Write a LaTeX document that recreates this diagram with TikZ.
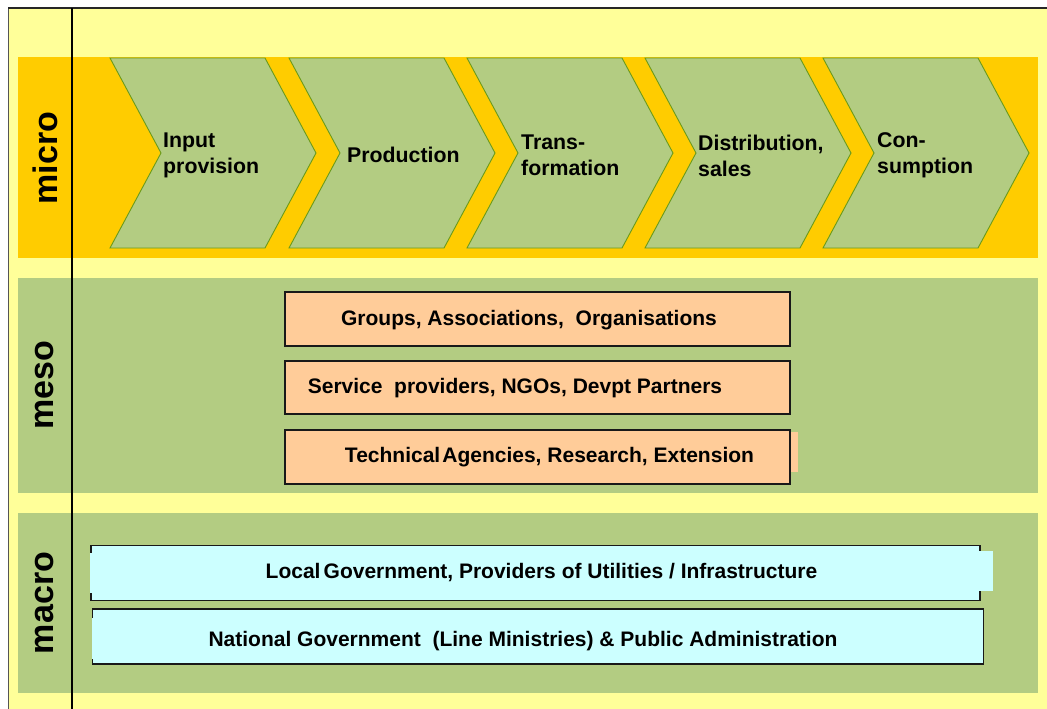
\documentclass[tikz,border=0pt]{standalone}
\usepackage{fontspec}
\setmainfont{Liberation Sans}
\definecolor{paleyellow}{HTML}{FFFF99}
\definecolor{bandorange}{HTML}{FFCC00}
\definecolor{bandgreen}{HTML}{B3CC82}
\definecolor{chevedge}{HTML}{6A9A1A}
\definecolor{peach}{HTML}{FFCC99}
\definecolor{palecyan}{HTML}{CCFFFF}
\definecolor{framegray}{HTML}{555555}
\tikzset{
  band/.style={fill=#1, draw=none},
  chevron/.style={fill=bandgreen, draw=chevedge, line width=0.9pt, line join=miter},
  steptext/.style={font=\bfseries\fontsize{21.3}{26}\selectfont, align=left, inner sep=0pt, anchor=west},
  levellabel/.style={font=\bfseries\fontsize{34}{38}\selectfont, rotate=90, inner sep=0pt},
  actorbox/.style={draw=black!90, line width=1.1pt, fill=#1, inner sep=0pt},
  actortext/.style={font=\bfseries\fontsize{21}{24}\selectfont, inner sep=0pt}
}
\begin{document}
\begin{tikzpicture}[x=1pt,y=-1pt]
\useasboundingbox (0,0) rectangle (1047,709);
\clip (0,0) rectangle (1047,709);
\fill[white] (0,0) rectangle (1047,709);

% outer frame
\fill[paleyellow] (8,8) rectangle (1060,720);
\draw[framegray, line width=1pt] (8,720) -- (8,8);
\draw[black!85, line width=1.5pt] (8,8) -- (1060,8);

% level bands
\fill[band=bandorange] (18,57) rectangle (1038,258);
\fill[band=bandgreen] (18,278) rectangle (1038,493);
\fill[band=bandgreen] (18,513) rectangle (1038,693);

% value chain steps (micro level)
\foreach \x in {110,289,467,645,823} {
  \draw[chevron] (\x,58) -- (\x+155,58) -- (\x+206,153) -- (\x+155,248)
        -- (\x,248) -- (\x+51,153) -- cycle;
}
\node[steptext] (s1) at (163,155.5) {Input\\provision};
\node[steptext] (s2) at (347,155) {Production};
\node[steptext] (s3) at (521,155.5) {Trans-\\formation};
\node[steptext] (s4) at (698,155.5) {Distribution,\\sales};
\node[steptext] (s5) at (877,155.5) {Con-\\sumption};

% meso level actors
\node[actorbox=peach, minimum width=505pt, minimum height=54pt] (m1) at (537.5,319) {};
\node[actorbox=peach, minimum width=505pt, minimum height=53pt] (m2) at (537.5,387.5) {};
\node[actorbox=peach, minimum width=505pt, minimum height=54pt] (m3) at (537.5,457) {};
\fill[peach] (790.6,431.5) rectangle (798,472);
\node[actortext] (mt1) at (529,320) {Groups, Associations,\ \ Organisations};
\node[actortext] (mt2) at (515,388.5) {Service\ \ providers, NGOs, Devpt Partners};
\node[actortext] (mt3) at (549.5,457) {Technical\hspace{0.1em}Agencies, Research, Extension};

% macro level actors
\node[actorbox=palecyan, minimum width=889pt, minimum height=54.5pt] (g1) at (535.5,572.8) {};
\node[actorbox=palecyan, minimum width=891pt, minimum height=55pt] (g2) at (538,636.5) {};
\fill[palecyan] (979.4,551) rectangle (992.7,590.7);
\fill[palecyan] (90.2,553) rectangle (93,593);
\fill[palecyan] (91.8,618) rectangle (94.5,659);
\node[actortext] (gt1) at (541.5,573) {Local\hspace{0.15em}Government, Providers of Utilities / Infrastructure};
\node[actortext] (gt2) at (523,641) {National Government\ \ (Line Ministries) \& Public Administration};

% level names and divider
\draw[black, line width=1.8pt] (72.3,8) -- (72.3,720);
\node[levellabel] (micro) at (45,158) {micro};
\node[levellabel] (meso) at (45,385) {meso};
\node[levellabel] (macro) at (45,603) {macro};
\end{tikzpicture}
\end{document}
